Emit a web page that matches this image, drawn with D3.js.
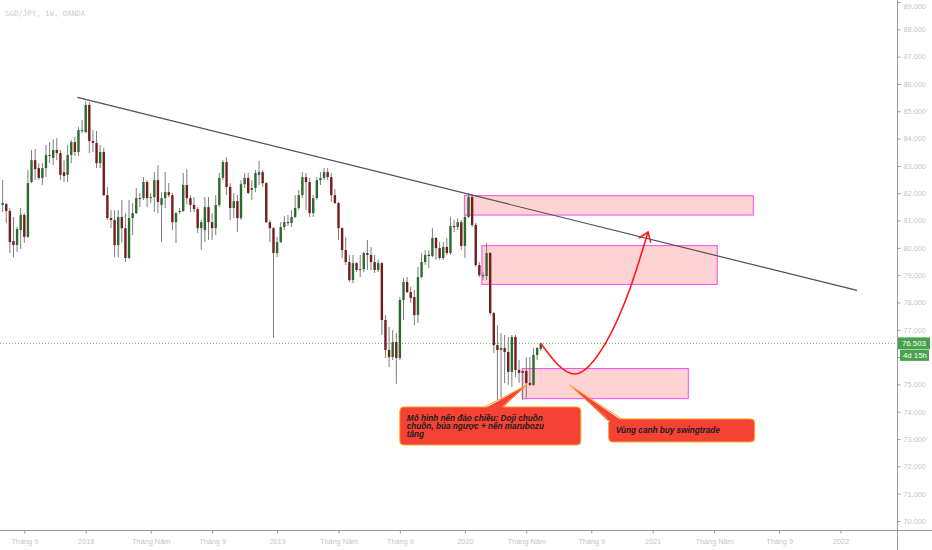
<!DOCTYPE html>
<html>
<head>
<meta charset="utf-8">
<script src="https://cdn.jsdelivr.net/npm/d3@7"></script>
<style>
html,body{margin:0;padding:0;background:#ffffff;}
svg{display:block;}
</style>
</head>
<body>
<svg id="chart" width="932" height="550"></svg>
<script>
// ---------------- data ----------------
const chartTitle = "SGD/JPY, 1W, OANDA";
const firstWeek = "2017-07-23";   // weekly bars, one per week from here
const open = [
81.57,81.60,81.35,80.25,80.10,80.65,81.20,80.40,82.41,83.21,
82.92,82.56,82.92,83.36,83.29,83.58,83.47,82.77,82.67,83.40,
83.87,83.51,84.28,84.24,85.23,83.91,83.84,83.10,83.51,81.93,
81.09,81.02,80.10,81.13,80.72,79.63,81.09,81.27,81.82,81.82,
82.41,81.82,81.86,82.48,81.57,81.82,82.04,81.93,80.94,81.31,
81.35,82.30,81.82,81.57,81.42,80.72,80.65,81.49,80.94,80.72,
81.57,82.56,83.14,82.23,81.46,81.71,81.09,82.33,82.56,82.12,
82.19,82.67,82.77,82.37,80.94,80.72,79.81,80.21,80.76,80.94,
80.91,81.13,81.46,81.93,82.59,82.41,81.27,81.82,82.48,82.56,
82.77,82.59,81.93,81.64,80.72,79.92,79.48,78.82,79.44,79.19,
79.22,79.81,79.74,79.48,79.19,79.44,77.36,76.26,76.00,76.55,
75.97,78.09,78.75,78.38,78.20,77.54,78.93,79.48,79.74,79.70,
80.36,79.99,79.63,80.03,79.81,80.80,80.76,80.94,80.07,81.13,
81.86,80.84,79.37,79.00,78.97,79.81,77.61,76.44,76.26,76.33,
76.19,75.46,76.74,75.53,75.42,75.49,75.05,74.98,76.08,76.30];
const high = [
82.48,81.64,81.46,81.13,80.76,81.46,81.27,82.85,83.58,83.62,
83.10,83.10,83.76,83.87,83.98,84.02,83.58,83.21,83.76,83.95,
84.06,84.42,84.68,85.37,85.34,84.31,84.28,83.76,83.65,82.23,
81.38,81.38,81.38,81.75,81.27,81.75,81.64,82.19,82.01,82.59,
82.48,82.01,82.77,83.03,82.04,82.77,82.37,82.01,81.31,81.46,
82.74,82.88,81.93,81.86,81.49,81.02,81.86,81.86,81.27,81.93,
82.74,83.21,83.32,82.37,82.01,81.93,82.48,82.74,82.74,82.48,
82.85,83.18,82.85,82.41,81.02,80.76,80.40,80.94,81.16,81.20,
81.38,81.93,82.12,82.77,82.74,82.56,81.93,82.59,82.77,82.92,
82.92,82.74,82.15,81.68,80.76,80.40,79.74,79.74,79.48,79.74,
79.85,80.29,80.03,79.74,79.56,79.48,77.54,77.10,76.99,76.88,
78.20,78.89,78.93,78.57,78.46,79.30,79.81,79.92,79.92,80.72,
80.40,80.21,80.21,80.36,81.13,81.02,81.09,81.02,81.20,82.01,
81.97,80.91,79.48,79.11,80.18,79.85,77.65,77.17,76.88,76.81,
76.74,76.81,76.81,75.89,75.53,76.00,76.00,76.33,76.37,76.52];
const low = [
81.31,80.91,79.81,79.66,79.85,79.96,80.18,80.36,82.37,82.48,
82.48,82.30,82.59,83.10,83.03,83.21,82.48,82.41,82.41,83.10,
83.36,83.36,84.20,84.20,83.47,83.51,82.92,82.92,81.90,81.02,
80.72,79.66,79.66,80.18,79.48,79.59,80.47,81.24,81.49,81.75,
81.49,81.64,81.31,81.27,80.21,81.46,81.86,80.65,80.18,81.24,
81.31,81.60,81.31,81.31,80.54,79.92,80.21,80.29,80.29,80.47,
81.49,82.48,81.93,81.02,81.09,80.58,81.02,82.19,81.97,81.75,
82.04,82.30,82.23,80.91,80.21,76.70,79.66,80.18,80.65,80.80,
80.76,81.09,81.38,81.82,81.38,81.13,81.13,81.75,82.30,82.48,
82.48,81.68,81.60,80.29,79.63,79.37,78.75,78.71,79.11,78.93,
79.11,79.19,79.19,79.08,79.11,76.81,75.97,75.64,75.89,75.02,
75.89,77.36,78.35,77.98,77.17,77.25,78.89,79.37,79.26,79.66,
79.56,79.56,79.56,79.74,79.74,80.58,80.65,79.92,79.63,81.09,
80.76,79.30,78.93,78.82,78.82,77.54,76.15,74.43,74.43,75.05,
74.98,74.91,75.27,75.05,74.43,74.50,74.94,74.94,75.89,76.22];
const close = [
81.64,81.35,80.21,80.10,80.69,81.20,80.40,82.37,83.21,82.88,
82.56,82.92,83.40,83.40,83.58,83.47,82.67,82.63,83.40,83.87,
83.51,84.31,84.31,85.23,83.91,83.84,83.10,83.51,81.93,81.09,
81.02,80.10,81.13,80.72,79.63,81.09,81.27,81.82,81.79,82.41,
81.82,81.86,82.48,81.68,81.82,82.04,81.93,80.94,81.27,81.35,
82.30,81.82,81.57,81.42,80.72,80.94,81.49,80.94,80.72,81.57,
82.56,83.14,82.23,81.46,81.71,81.09,82.33,82.56,82.01,82.19,
82.74,82.77,82.37,80.94,80.72,79.81,80.21,80.76,80.94,80.91,
81.13,81.46,81.93,82.59,82.41,81.27,81.82,82.48,82.56,82.77,
82.59,81.93,81.64,80.72,79.92,79.48,78.82,79.44,79.19,79.22,
79.81,79.74,79.48,79.19,79.44,77.36,76.26,76.00,76.55,75.97,
78.09,78.75,78.38,78.16,77.54,78.93,79.48,79.74,79.70,80.36,
79.99,79.63,80.03,79.81,80.80,80.76,80.94,80.07,81.13,81.86,
80.84,79.37,79.00,78.97,79.81,77.61,76.44,76.26,76.33,76.19,
75.46,76.74,75.53,75.42,75.49,75.05,74.98,76.08,76.33,76.503];

const priceTicks = [70,71,72,73,74,75,76,77,78,79,80,81,82,83,84,85,86,87,88,89];
const timeTickDates = ["2017-09-03","2017-12-31","2018-05-06","2018-09-02","2019-01-06","2019-05-05",
  "2019-09-01","2020-01-05","2020-05-03","2020-09-06","2021-01-03","2021-05-02","2021-09-05","2022-01-02"];
const timeTickLabels = ["Tháng 9","2018","Tháng Năm","Tháng 9","2019","Tháng Năm",
  "Tháng 9","2020","Tháng Năm","Tháng 9","2021","Tháng Năm","Tháng 9","2022"];
const lastPrice = 76.503;
const barCountdown = "4d 15h";

const trendDates = ["2017-12-15","2022-02-03"];
const trendPrices = [85.51, 78.44];

const zoneFrom   = ["2020-01-04","2020-02-07","2020-04-25"];
const zoneTo     = ["2021-07-17","2021-05-08","2021-03-13"];
const zoneTop    = [81.91, 80.08, 75.58];
const zoneBottom = [81.20, 78.66, 74.48];

const pathDates  = ["2020-05-31","2020-08-05","2020-10-05","2020-11-19","2020-12-25"];
const pathPrices = [76.50, 75.38, 76.56, 78.46, 80.58];

const noteDates  = ["2020-05-04","2020-07-26"];
const notePrices = [74.98, 74.98];
const noteLines  = [["Mô hình nến đảo chiều: Doji chuồn","chuồn, búa ngược + nến marubozu","tăng"],
                    ["Vùng canh buy swingtrade"]];

// ---------------- drawing ----------------
const parse = d3.timeParse("%Y-%m-%d");
const W = 932, H = 550, axisX = 897, axisY = 530;
const svg = d3.select("#chart");

const x = d3.scaleTime()
  .domain([parse("2017-12-31"), parse("2022-01-02")])
  .range([85.7, 840.5]);
const y = d3.scaleLinear().domain([70, 89]).range([521, 2]);

const start = parse(firstWeek);
const bars = open.map((o, i) => ({
  date: d3.timeWeek.offset(start, i), o, h: high[i], l: low[i], c: close[i]
}));

const plot = svg.append("g");

// title
svg.append("text").attr("x", 5).attr("y", 16)
  .attr("font-family", "DejaVu Sans Mono").attr("font-size", 7.4)
  .attr("fill", "#cdcdcd").text(chartTitle);

// last price dotted line
plot.append("line")
  .attr("x1", 0).attr("x2", axisX)
  .attr("y1", y(lastPrice)).attr("y2", y(lastPrice))
  .attr("stroke", "#58b45c").attr("stroke-width", 1)
  .attr("stroke-dasharray", "1,2");

// zones
zoneFrom.forEach((f, i) => {
  const x0 = x(parse(f)), x1 = x(parse(zoneTo[i]));
  const y0 = y(zoneTop[i]), y1 = y(zoneBottom[i]);
  plot.append("rect")
    .attr("x", x0).attr("y", y0).attr("width", x1 - x0).attr("height", y1 - y0)
    .attr("fill", "rgba(255,140,140,0.38)")
    .attr("stroke", "#f24cf2").attr("stroke-width", 1);
});

// candles
const bw = 2.4;
const cg = plot.append("g");
cg.selectAll("line.wick").data(bars).join("line")
  .attr("class", "wick")
  .attr("x1", d => x(d.date)).attr("x2", d => x(d.date))
  .attr("y1", d => y(d.h)).attr("y2", d => y(d.l))
  .attr("stroke", "#7d7d7d").attr("stroke-width", 1);
cg.selectAll("rect.body").data(bars).join("rect")
  .attr("class", "body")
  .attr("x", d => x(d.date) - bw / 2)
  .attr("y", d => y(Math.max(d.o, d.c)))
  .attr("width", bw)
  .attr("height", d => Math.max(1, Math.abs(y(d.o) - y(d.c))))
  .attr("fill", d => d.c >= d.o ? "#2b6a2f" : "#771c1c");

// trend line
plot.append("line")
  .attr("x1", x(parse(trendDates[0]))).attr("y1", y(trendPrices[0]))
  .attr("x2", x(parse(trendDates[1]))).attr("y2", y(trendPrices[1]))
  .attr("stroke", "#505050").attr("stroke-width", 1.2);

// projected path
const pts = pathDates.map((d, i) => [x(parse(d)), y(pathPrices[i])]);
plot.append("path")
  .attr("d", d3.line().curve(d3.curveMonotoneX)(pts))
  .attr("fill", "none").attr("stroke", "#ff1a1a").attr("stroke-width", 1.6);
{
  const [tx, ty] = pts[pts.length - 1];
  const ang = Math.atan2(ty - 250, tx - 641);   // direction of arrival
  const len = 11, spread = 0.62;
  const a1 = ang + Math.PI - spread, a2 = ang + Math.PI + spread;
  plot.append("path")
    .attr("d", `M${tx + len * Math.cos(a1)},${ty + len * Math.sin(a1)}L${tx},${ty}L${tx + len * Math.cos(a2)},${ty + len * Math.sin(a2)}`)
    .attr("fill", "none").attr("stroke", "#ff1a1a").attr("stroke-width", 1.6);
}

// callouts
const boxes = [
  {dx: -127, dy: 22, w: 181, h: 38, b1: -42, b2: -25},
  {dx: 39, dy: 34, w: 146, h: 23, b1: 38, b2: 52}
];
noteDates.forEach((d, i) => {
  const tx = x(parse(d)), ty = y(notePrices[i]);
  const b = boxes[i];
  const g = plot.append("g");
  g.append("rect")
    .attr("x", tx + b.dx).attr("y", ty + b.dy).attr("width", b.w).attr("height", b.h)
    .attr("rx", 4).attr("fill", "#f44336").attr("stroke", "#ffa21f").attr("stroke-width", 1);
  g.append("path")
    .attr("d", `M${tx + b.b1},${ty + b.dy + 1.5}L${tx},${ty}L${tx + b.b2},${ty + b.dy + 1.5}Z`)
    .attr("fill", "#f44336").attr("stroke", "none");
  g.append("path")
    .attr("d", `M${tx + b.b1},${ty + b.dy}L${tx},${ty}L${tx + b.b2},${ty + b.dy}`)
    .attr("fill", "none").attr("stroke", "#ffa21f").attr("stroke-width", 1);
  const lines = noteLines[i];
  const lh = 8.2;
  const y0 = ty + b.dy + b.h / 2 - (lines.length - 1) * lh / 2 + 3;
  lines.forEach((t, k) => {
    g.append("text")
      .attr("x", tx + b.dx + 7).attr("y", y0 + k * lh)
      .attr("font-family", "Liberation Sans").attr("font-size", 8.2)
      .attr("font-weight", "bold").attr("font-style", "italic")
      .attr("fill", "#1d1d1d").text(t);
  });
});

// axes lines
svg.append("line").attr("x1", 0).attr("x2", W).attr("y1", axisY + 0.5).attr("y2", axisY + 0.5)
  .attr("stroke", "#9a9a9a").attr("stroke-width", 1);
svg.append("line").attr("x1", axisX + 0.5).attr("x2", axisX + 0.5).attr("y1", 0).attr("y2", H)
  .attr("stroke", "#9a9a9a").attr("stroke-width", 1);

// price axis
const yAxis = svg.append("g").attr("transform", `translate(${axisX + 0.5},0)`)
  .call(d3.axisRight(y).tickValues(priceTicks).tickFormat(d3.format(".3f")).tickSize(3).tickPadding(3));
yAxis.select(".domain").remove();
yAxis.selectAll(".tick line").attr("stroke", "#9a9a9a");
yAxis.selectAll(".tick text").attr("fill", "#c6c6c6")
  .attr("font-family", "Liberation Sans").attr("font-size", 7.3);
// keep the topmost label inside the picture
yAxis.selectAll(".tick text").filter(d => y(d) < 5).attr("dy", "0.9em");

// time axis
const xAxis = svg.append("g").attr("transform", `translate(0,${axisY + 0.5})`)
  .call(d3.axisBottom(x).tickValues(timeTickDates.map(parse))
    .tickFormat((d, i) => timeTickLabels[i]).tickSize(3).tickPadding(5));
xAxis.select(".domain").remove();
xAxis.selectAll(".tick line").attr("stroke", "#9a9a9a");
xAxis.selectAll(".tick text").attr("fill", "#c6c6c6")
  .attr("font-family", "Liberation Sans").attr("font-size", 7.3);

// last price labels
const ly = y(lastPrice);
svg.append("rect").attr("x", axisX + 1).attr("y", ly - 6).attr("width", 32).attr("height", 12)
  .attr("fill", "#47a34b");
svg.append("text").attr("x", axisX + 5).attr("y", ly + 3)
  .attr("font-family", "Liberation Sans").attr("font-size", 7.8).attr("fill", "#ffffff").text("76.503");
svg.append("rect").attr("x", axisX + 3).attr("y", ly + 6.5).attr("width", 29).attr("height", 11)
  .attr("fill", "#47a34b");
svg.append("text").attr("x", axisX + 6).attr("y", ly + 15)
  .attr("font-family", "Liberation Sans").attr("font-size", 7.8).attr("fill", "#ffffff").text(barCountdown);
</script>
</body>
</html>
